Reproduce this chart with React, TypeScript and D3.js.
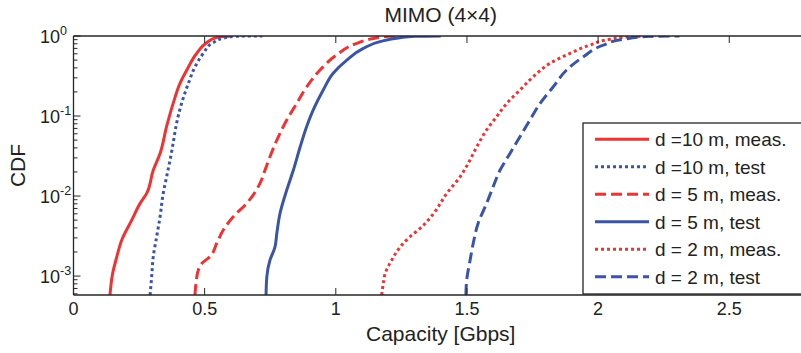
import React from "react";
import * as d3 from "d3";

// capacity [Gbps] vs CDF
const meas10m: [number, number][] = [
  [0.139, 5.8e-4], [0.149, 1.07e-3], [0.165, 1.74e-3], [0.184, 2.82e-3],
  [0.222, 5.0e-3], [0.254, 8.1e-3], [0.279, 1.08e-2], [0.304, 2.1e-2],
  [0.33, 3.4e-2], [0.355, 7.4e-2], [0.38, 0.144], [0.406, 0.256],
  [0.432, 0.376], [0.47, 0.608], [0.508, 0.826], [0.546, 0.96], [0.6, 1],
];
const test10m: [number, number][] = [
  [0.292, 5.8e-4], [0.298, 9.8e-4], [0.304, 1.74e-3], [0.317, 3.1e-3],
  [0.33, 5.5e-3], [0.342, 1.08e-2], [0.355, 1.74e-2], [0.368, 2.8e-2],
  [0.38, 4.6e-2], [0.393, 8.1e-2], [0.412, 0.144], [0.438, 0.256],
  [0.463, 0.41], [0.495, 0.608], [0.533, 0.83], [0.571, 0.94], [0.62, 0.995], [0.72, 1],
];
const meas5m: [number, number][] = [
  [0.463, 5.8e-4], [0.467, 8.1e-4], [0.476, 1.19e-3], [0.489, 1.44e-3],
  [0.52, 1.74e-3], [0.546, 2.57e-3], [0.571, 3.76e-3], [0.609, 5.5e-3],
  [0.66, 8.1e-3], [0.711, 1.44e-2], [0.73, 2.1e-2], [0.749, 3.1e-2],
  [0.781, 5.5e-2], [0.813, 8.9e-2], [0.851, 0.144], [0.889, 0.232],
  [0.94, 0.376], [1.003, 0.579], [1.08, 0.81], [1.143, 0.93], [1.2, 0.99], [1.28, 1],
];
const test5m: [number, number][] = [
  [0.734, 5.8e-4], [0.737, 9.8e-4], [0.749, 1.58e-3], [0.768, 2.3e-3],
  [0.775, 3.4e-3], [0.787, 6.0e-3], [0.813, 1.19e-2], [0.838, 2.1e-2],
  [0.864, 4.1e-2], [0.889, 7.4e-2], [0.914, 0.119], [0.952, 0.211],
  [0.99, 0.342], [1.042, 0.5], [1.105, 0.7], [1.168, 0.85], [1.245, 0.95],
  [1.3, 0.99], [1.4, 1],
];
const meas2m: [number, number][] = [
  [1.175, 5.8e-4], [1.181, 8.1e-4], [1.188, 1.07e-3], [1.213, 1.58e-3],
  [1.245, 2.3e-3], [1.283, 3.1e-3], [1.327, 4.1e-3], [1.372, 6.0e-3],
  [1.423, 1.08e-2], [1.474, 1.74e-2], [1.505, 2.57e-2], [1.537, 4.1e-2],
  [1.575, 6.7e-2], [1.613, 9.8e-2], [1.652, 0.144], [1.702, 0.211],
  [1.753, 0.31], [1.817, 0.456], [1.893, 0.608], [1.969, 0.77],
  [2.045, 0.91], [2.12, 0.98], [2.22, 1],
];
const test2m: [number, number][] = [
  [1.496, 5.8e-4], [1.499, 8.9e-4], [1.512, 1.58e-3], [1.524, 2.57e-3],
  [1.543, 4.6e-3], [1.575, 8.1e-3], [1.6, 1.31e-2], [1.626, 2.1e-2],
  [1.664, 3.4e-2], [1.702, 5.5e-2], [1.74, 8.9e-2], [1.779, 0.144],
  [1.829, 0.232], [1.88, 0.376], [1.944, 0.551], [2.02, 0.77],
  [2.096, 0.91], [2.2, 0.99], [2.31, 1],
];

const seriesLabels = [
  "d =10 m, meas.",
  "d =10 m, test",
  "d = 5 m, meas.",
  "d = 5 m, test",
  "d = 2 m, meas.",
  "d = 2 m, test",
];

const xTicks = [0, 0.5, 1, 1.5, 2, 2.5];
const yTickExps = [0, -1, -2, -3];

const RED = "#ee3333";
const BLUE = "#3a55a6";
const AXIS = "#262626";
const FONT = "'Liberation Sans', Arial, Helvetica, sans-serif";

const series = [
  { data: meas10m, color: RED, dash: null },
  { data: test10m, color: BLUE, dash: "3,3" },
  { data: meas5m, color: RED, dash: "11,5" },
  { data: test5m, color: BLUE, dash: null },
  { data: meas2m, color: RED, dash: "3,3" },
  { data: test2m, color: BLUE, dash: "11,5" },
];

const W = 801;
const H = 353;

export default function App() {
  const left = 73.5;
  const top = 36;
  const bottom = 295;
  const x = d3.scaleLinear().domain([0, 2.8]).range([left, left + 2.8 * 262.3]);
  const y = d3.scaleLog().domain([5.8e-4, 1]).range([bottom, top]);
  const right = x(2.8);

  const line = d3
    .line<[number, number]>()
    .x((d) => x(d[0]))
    .y((d) => y(d[1]))
    .curve(d3.curveMonotoneY);

  // minor ticks for log axis
  const minor: number[] = [];
  for (let e = -4; e < 0; e++) {
    for (let k = 2; k <= 9; k++) {
      const v = k * Math.pow(10, e);
      if (v >= 5.8e-4 && v <= 1) minor.push(v);
    }
  }

  const legX = 583;
  const legTop = 123;
  const rowY = (i: number) => 139.3 + i * 27.5;

  return (
    <svg
      width={W}
      height={H}
      style={{ position: "absolute", left: 0, top: 0, background: "#fff" }}
      fontFamily={FONT}
    >
      <defs>
        <clipPath id="plot">
          <rect x={left} y={top} width={right - left} height={bottom - top} />
        </clipPath>
      </defs>

      {/* curves */}
      <g clipPath="url(#plot)">
        {series.map((s, i) => (
          <path
            key={i}
            d={line(s.data) || ""}
            fill="none"
            stroke={s.color}
            strokeWidth={3}
            strokeDasharray={s.dash || undefined}
            strokeLinejoin="round"
          />
        ))}
      </g>

      {/* ticks */}
      <g stroke={AXIS} strokeWidth={1}>
        {xTicks.map((t) => (
          <g key={t}>
            <line x1={x(t)} x2={x(t)} y1={bottom} y2={bottom - 7} />
            <line x1={x(t)} x2={x(t)} y1={top} y2={top + 7} />
          </g>
        ))}
        {yTickExps.map((e) => (
          <line key={e} x1={left} x2={left + 7} y1={y(Math.pow(10, e))} y2={y(Math.pow(10, e))} />
        ))}
        {minor.map((v, i) => (
          <line key={i} x1={left} x2={left + 4} y1={y(v)} y2={y(v)} />
        ))}
      </g>

      {/* legend */}
      <g>
        <rect
          x={legX}
          y={legTop}
          width={W - legX + 10}
          height={bottom - legTop - 1}
          fill="#fff"
          stroke={AXIS}
          strokeWidth={1.3}
        />
        {series.map((s, i) => (
          <g key={i}>
            <line
              x1={595}
              x2={649}
              y1={rowY(i)}
              y2={rowY(i)}
              stroke={s.color}
              strokeWidth={3}
              strokeDasharray={s.dash || undefined}
            />
            <text x={655} y={rowY(i) + 7} fontSize={19} fill="#222">
              {seriesLabels[i]}
            </text>
          </g>
        ))}
      </g>

      {/* axis box */}
      <g stroke={AXIS} strokeWidth={1.3} fill="none">
        <line x1={left} x2={right} y1={top} y2={top} />
        <line x1={left} x2={right} y1={bottom} y2={bottom} />
        <line x1={left} x2={left} y1={top} y2={bottom} />
        <line x1={right} x2={right} y1={top} y2={bottom} />
      </g>

      {/* tick labels */}
      <g fontSize={18} fill="#222">
        {xTicks.map((t) => (
          <text key={t} x={x(t)} y={315} textAnchor="middle">
            {String(t)}
          </text>
        ))}
        {yTickExps.map((e) => (
          <text key={e} x={40} y={y(Math.pow(10, e)) + 6.5}>
            10
            <tspan fontSize={12.5} dy={-8}>
              {String(e)}
            </tspan>
          </text>
        ))}
      </g>

      {/* labels */}
      <text x={(left + right) / 2} y={22} fontSize={21} textAnchor="middle" fill="#222">
        MIMO (4×4)
      </text>
      <text x={(left + right) / 2} y={341} fontSize={21} textAnchor="middle" fill="#222">
        Capacity [Gbps]
      </text>
      <text
        transform={`translate(25, ${(top + bottom) / 2}) rotate(-90)`}
        fontSize={21}
        textAnchor="middle"
        fill="#222"
      >
        CDF
      </text>
    </svg>
  );
}
